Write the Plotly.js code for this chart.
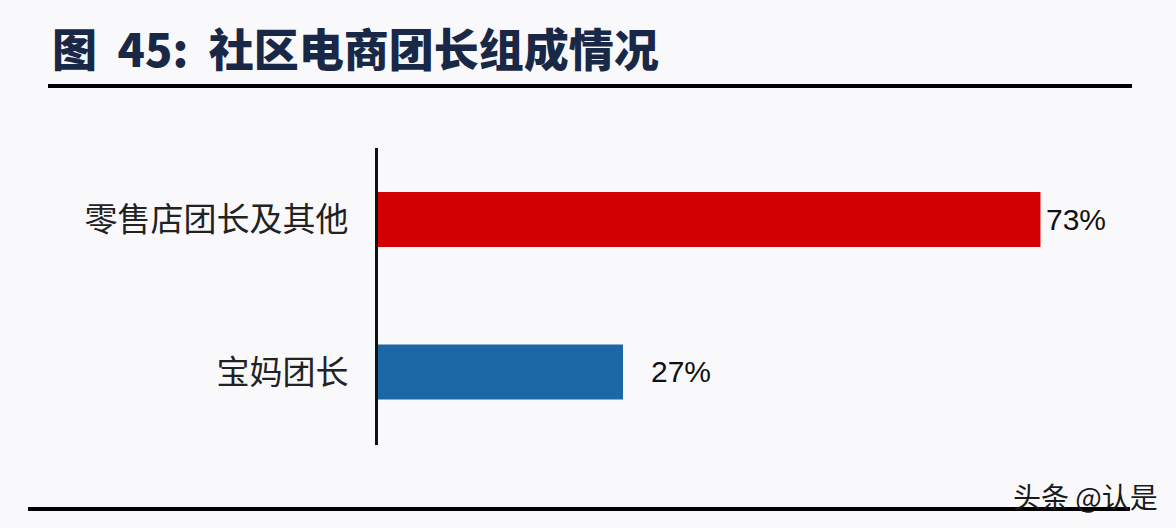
<!DOCTYPE html>
<html>
<head>
<meta charset="utf-8">
<script src="https://cdn.plot.ly/plotly-3.0.1.min.js"></script>
<style>
html,body{margin:0;padding:0;background:#f9f9fb;}
#chart{width:1176px;height:528px;}
</style>
</head>
<body>
<div id="chart"></div>
<script>
const categories = ['零售店团长及其他', '宝妈团长'];
const values = [73, 27];
const valueLabels = ['73%', '27%'];
const barColors = ['#d20000', '#1c67a5'];
const titleText = '图\u00a0\u00a045:\u00a0\u00a0社区电商团长组成情况';
const watermark = '头条 @认是';

const labelShift = [4, 26];

const trace = {
  type: 'bar',
  orientation: 'h',
  y: categories,
  x: values,
  marker: {color: barColors, line: {width: 0}},
  width: 0.36,
  hoverinfo: 'none'
};

const annotations = categories.map((c, i) => ({
  x: values[i], y: c, xref: 'x', yref: 'y',
  text: valueLabels[i], showarrow: false,
  xanchor: 'left', yanchor: 'middle', xshift: labelShift[i],
  font: {family: 'Liberation Sans, Arial, sans-serif', size: 30, color: '#111'}
}));
annotations.push({
  xref: 'paper', yref: 'paper', x: (1160 - 378) / 726, y: (445 - 496) / 297,
  xanchor: 'right', yanchor: 'middle', showarrow: false,
  text: watermark,
  font: {family: 'Noto Sans CJK SC, sans-serif', size: 28, color: '#1a1a1a'}
});

const layout = {
  width: 1176, height: 528,
  margin: {l: 378, r: 72, t: 148, b: 83, pad: 0},
  paper_bgcolor: '#f9f9fb', plot_bgcolor: '#f9f9fb',
  showlegend: false,
  title: {
    text: titleText,
    xref: 'container', yref: 'container',
    x: 52 / 1176, xanchor: 'left',
    y: 1 - 51 / 528, yanchor: 'middle',
    font: {family: 'Noto Sans CJK SC, sans-serif', size: 45, color: '#1a2847', weight: 900}
  },
  xaxis: {
    range: [0, 80], visible: false, showgrid: false, zeroline: false, fixedrange: true
  },
  yaxis: {
    type: 'category',
    range: [1.479, -0.469],
    showline: true, linecolor: '#111', linewidth: 3,
    showgrid: false, zeroline: false,
    ticks: '', ticklabelstandoff: 20,
    tickfont: {family: 'Noto Sans CJK SC, sans-serif', size: 33, color: '#222'},
    fixedrange: true
  },
  shapes: [
    {type: 'line', xref: 'paper', yref: 'paper',
     x0: (48 - 378) / 726, x1: (1132 - 378) / 726,
     y0: (445 - 86) / 297, y1: (445 - 86) / 297,
     line: {color: '#000', width: 4}},
    {type: 'line', xref: 'paper', yref: 'paper',
     x0: (28 - 378) / 726, x1: (1130 - 378) / 726,
     y0: (445 - 509) / 297, y1: (445 - 509) / 297,
     line: {color: '#000', width: 4}}
  ],
  annotations: annotations
};

Plotly.newPlot('chart', [trace], layout, {displayModeBar: false, staticPlot: true});
</script>
</body>
</html>
